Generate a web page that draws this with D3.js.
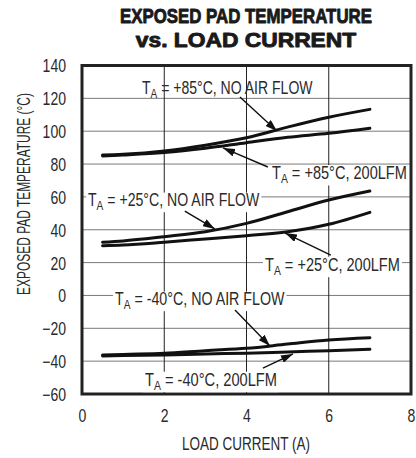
<!DOCTYPE html>
<html>
<head>
<meta charset="utf-8">
<script src="https://cdn.jsdelivr.net/npm/d3@7"></script>
<style>
  html, body { margin: 0; padding: 0; background: #fff; }
  svg { display: block; }
  text { font-family: "Liberation Sans", Arial, Helvetica, sans-serif; fill: #2a2a2a; }
</style>
</head>
<body>
<svg id="chart" width="416" height="458"></svg>
<script>
// ---- data ----
const loadCurrent = [0.5, 1, 2, 3, 4, 5, 6, 7];
const t85NoAir   = [85.5, 86, 88, 91.5, 96, 102.5, 108.5, 113.3];
const t85Lfm200  = [84.9, 85.5, 87, 89.6, 93, 96.3, 98.7, 101.8];
const t25NoAir   = [32.4, 33.2, 35.8, 38.8, 43.9, 51, 58.1, 63.6];
const t25Lfm200  = [30.3, 30.7, 32.4, 34.4, 36.4, 38.8, 43.3, 50.6];
const tm40NoAir  = [-36.3, -35.9, -35.2, -33.6, -32.2, -29.6, -27.1, -25.7];
const tm40Lfm200 = [-36.9, -36.6, -36.3, -35.6, -35.2, -34.4, -33.6, -32.8];
const xTicks = [0, 2, 4, 6, 8];
const yTicks = [-60, -40, -20, 0, 20, 40, 60, 80, 100, 120, 140];
const titleLines = ["EXPOSED PAD TEMPERATURE", "vs. LOAD CURRENT"];
const xLabel = "LOAD CURRENT (A)";
const yLabel = "EXPOSED PAD TEMPERATURE (°C)";
const seriesNames = ["+85°C, NO AIR FLOW", "+85°C, 200LFM", "+25°C, NO AIR FLOW", "+25°C, 200LFM", "-40°C, NO AIR FLOW", "-40°C, 200LFM"];

const series = [t85NoAir, t85Lfm200, t25NoAir, t25Lfm200, tm40NoAir, tm40Lfm200];

(function () {
const svg = d3.select("#chart");
const pl = 82, pr = 411, pt = 65.5, pb = 394;
const x = d3.scaleLinear().domain([0, 8]).range([pl, pr]);
const y = d3.scaleLinear().domain([-60, 140]).range([pb, pt]);
const narrow = 0.78;

// condensed text helper: draws text then squeezes it horizontally to a target width
function ctext(parent, tx, ty, anchor, size, target, build, extra) {
  const g = parent.append("g");
  const t = g.append("text").attr("text-anchor", anchor).style("font-size", size + "px");
  build(t);
  const w = t.node().getBBox().width;
  const s = target ? target / w : narrow;
  g.attr("transform", `translate(${tx},${ty})${extra || ""} scale(${s},1)`);
  return { g, t };
}

// title
titleLines.forEach((d, i) => {
  ctext(svg, 246, 22.7 + i * 24, "middle", 20.5, i === 0 ? 252 : 221,
    t => t.style("font-weight", "bold").style("fill", "#1a1a1a")
      .attr("stroke", "#1a1a1a").attr("stroke-width", 0.9).attr("stroke-linejoin", "round").text(d));
});

// gridlines
svg.append("g").selectAll("line").data(yTicks.slice(1, -1)).join("line")
  .attr("x1", pl).attr("x2", pr).attr("y1", d => y(d)).attr("y2", d => y(d))
  .attr("stroke", "#7a7a7a").attr("stroke-width", 1);
svg.append("g").selectAll("line").data(xTicks.slice(1, -1)).join("line")
  .attr("y1", pt).attr("y2", pb).attr("x1", d => x(d)).attr("x2", d => x(d))
  .attr("stroke", "#222").attr("stroke-width", 1);

// axes (labels only)
const yAxis = svg.append("g").attr("transform", `translate(${pl - 16},0)`)
  .call(d3.axisLeft(y).tickValues(yTicks).tickSize(0).tickPadding(0).tickFormat(d3.format("d")));
yAxis.select(".domain").remove();
yAxis.attr("font-family", null).attr("font-size", null);
yAxis.selectAll("text").style("font-size", "18px").attr("dy", "0.36em").attr("x", 0)
  .attr("transform", `scale(${narrow},1)`);

const xAxis = svg.append("g").attr("transform", `translate(0,${pb})`)
  .call(d3.axisBottom(x).tickValues(xTicks).tickSize(0).tickPadding(0).tickFormat(d3.format("d")));
xAxis.select(".domain").remove();
xAxis.attr("font-family", null).attr("font-size", null);
xAxis.selectAll("text").style("font-size", "18px").attr("dy", null).attr("y", 28)
  .attr("transform", `scale(${narrow},1)`);

ctext(svg, 246, 450, "middle", 17.5, 128, t => t.text(xLabel));
ctext(svg, 29.5, 194, "middle", 17.5, 202, t => t.text(yLabel), " rotate(-90)");

// curves
const line = d3.line().x(d => x(d[0])).y(d => y(d[1])).curve(d3.curveMonotoneX);
svg.append("g").selectAll("path").data(series).join("path")
  .attr("d", s => line(loadCurrent.map((v, i) => [v, s[i]])))
  .attr("fill", "none").attr("stroke", "#111").attr("stroke-width", 3).attr("stroke-linecap", "round");

// frame
svg.append("rect").attr("x", pl).attr("y", pt).attr("width", pr - pl).attr("height", pb - pt)
  .attr("fill", "none").attr("stroke", "#222").attr("stroke-width", 3);

// arrow marker
svg.append("defs").append("marker").attr("id", "ah")
  .attr("viewBox", "0 0 12 8").attr("refX", 12).attr("refY", 4)
  .attr("markerWidth", 12).attr("markerHeight", 8).attr("markerUnits", "userSpaceOnUse")
  .attr("orient", "auto")
  .append("path").attr("d", "M0,0 L12,4 L0,8 Z").attr("fill", "#111");

// annotations: [series index, label left x, baseline, width, arrow start (A, °C), arrow tip (A, °C), background]
const notes = [
  [0, 142, 94.3, 171, [3.84, 120.8], [4.74, 100.1], false],
  [1, 272, 179.3, 135, [4.52, 78.2], [3.43, 89.8], true],
  [2, 88, 206, 172, [2.50, 51.4], [3.23, 40.5], true],
  [3, 265, 271, 135, [6.05, 24.6], [4.94, 38.0], true],
  [4, 115, 305, 170, [3.72, -8.9], [4.57, -30.8], true],
  [5, 145, 386, 132, [4.40, -44.2], [5.13, -35.6], true]
];
const ng = svg.append("g");
notes.forEach(n => {
  const { g, t } = ctext(ng, n[1], n[2], "start", 17.5, n[3], t => {
    t.append("tspan").text("T");
    t.append("tspan").text("A").style("font-size", "12.5px").attr("dy", 4);
    t.append("tspan").text(" = " + seriesNames[n[0]]).attr("dy", -4);
  });
  if (n[6]) {
    const b = t.node().getBBox();
    g.insert("rect", "text").attr("x", b.x - 2.5).attr("y", b.y + 2).attr("width", b.width + 5).attr("height", b.height - 2)
      .attr("fill", "#fff");
  }
  ng.append("line").attr("x1", x(n[4][0])).attr("y1", y(n[4][1])).attr("x2", x(n[5][0])).attr("y2", y(n[5][1]))
    .attr("stroke", "#111").attr("stroke-width", 1.4).attr("marker-end", "url(#ah)");
});
})();
</script>
</body>
</html>
